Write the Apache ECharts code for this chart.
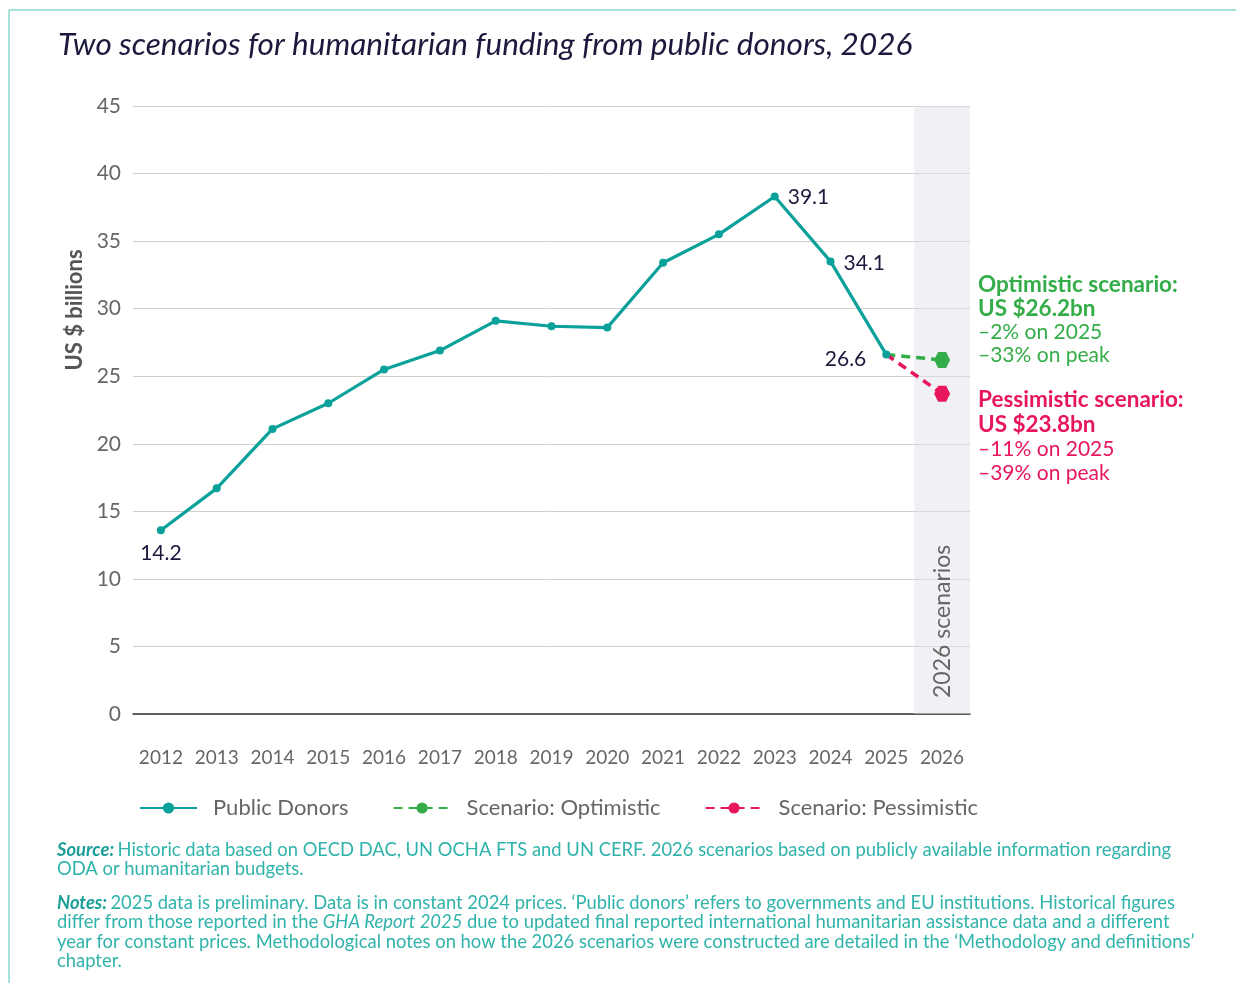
<!DOCTYPE html>
<html>
<head>
<meta charset="utf-8">
<script src="https://cdn.jsdelivr.net/npm/echarts@6/dist/echarts.min.js"></script>
<style>html,body{margin:0;padding:0;background:#fff;}#c{width:1236px;height:983px;}</style>
</head>
<body>
<div id="c"></div>
<script>
var years = ['2012','2013','2014','2015','2016','2017','2018','2019','2020','2021','2022','2023','2024','2025','2026'];
var publicDonors = [13.6, 16.7, 21.1, 23.0, 25.5, 26.9, 29.1, 28.7, 28.6, 33.4, 35.5, 38.3, 33.5, 26.6, null];
var optimistic = [null, null, null, null, null, null, null, null, null, null, null, null, null, 26.6, 26.2];
var pessimistic = [null, null, null, null, null, null, null, null, null, null, null, null, null, 26.6, 23.7];
var pointLabels = {0: '14.2', 11: '39.1', 12: '34.1', 13: '26.6'};
var yTicks = [0, 5, 10, 15, 20, 25, 30, 35, 40, 45];
var scenarioBand = [null, null, null, null, null, null, null, null, null, null, null, null, null, null, 45];

var FONT = 'Lato, "Open Sans", sans-serif';
var TEAL = '#0aa19b', GREEN = '#34ad48', PINK = '#e8175d', NAVY = '#1b1a3d';
var HEX = 'path://M5,0 L15,0 L20,8.66 L15,17.32 L5,17.32 L0,8.66 Z';

function lastSymbol(arr) {
  return arr.map(function (v, i) {
    if (v === null) return null;
    return i === arr.length - 1 ? {value: v, symbol: HEX, symbolSize: 16} : {value: v, symbol: 'none'};
  });
}

var labelPos = {0: ['bottom', [0, 3]], 11: ['right', [4, 1]], 12: ['right', [4, 2]], 13: ['left', [-11, 5]]};
var donorData = publicDonors.map(function (v, i) {
  if (v === null) return null;
  var o = {value: v};
  if (pointLabels[i]) {
    o.label = {show: true, formatter: pointLabels[i], position: labelPos[i][0], offset: labelPos[i][1],
      color: NAVY, fontSize: 21, fontFamily: FONT};
  }
  return o;
});

var chart = echarts.init(document.getElementById('c'), null, {renderer: 'canvas'});
chart.setOption({
  animation: false,
  backgroundColor: '#fff',
  textStyle: {fontFamily: FONT},
  grid: {left: 133, right: 266, top: 106, bottom: 269, containLabel: false},
  legend: {
    data: ['Public Donors', 'Scenario: Optimistic', 'Scenario: Pessimistic'],
    left: 134, top: 792, itemWidth: 57, itemHeight: 14, itemGap: 44,
    textStyle: {fontSize: 22, color: '#666', fontFamily: FONT, padding: [0, 0, 0, 11]}
  },
  xAxis: {
    type: 'category', data: years, boundaryGap: true,
    axisLine: {lineStyle: {color: '#333', width: 1.5}},
    axisTick: {alignWithLabel: true, length: 12, lineStyle: {color: '#bbb'}},
    axisLabel: {interval: 0, fontSize: 19, color: '#666', margin: 34, fontFamily: FONT}
  },
  yAxis: {
    type: 'value', min: 0, max: 45, interval: 5,
    axisLine: {show: false}, axisTick: {show: false},
    axisLabel: {fontSize: 21, color: '#666', margin: 12, fontFamily: FONT,
      formatter: function (v) { return yTicks.indexOf(v) >= 0 ? String(v) : ''; }},
    splitLine: {lineStyle: {color: '#cfcfcf', width: 1}}
  },
  series: [
    {
      name: 'band', type: 'bar', data: scenarioBand, barWidth: '100%', silent: true, z: 0,
      itemStyle: {color: 'rgba(226,228,233,0.5)'},
      label: {show: true, formatter: '2026 scenarios', position: 'insideBottom', rotate: 90,
        align: 'left', verticalAlign: 'middle', distance: 16, fontSize: 23, color: '#666', fontFamily: FONT}
    },
    {
      name: 'Scenario: Optimistic', type: 'line', data: lastSymbol(optimistic), z: 3,
      lineStyle: {color: GREEN, width: 3.5, type: [9, 6]}, itemStyle: {color: GREEN},
      symbol: 'circle', symbolSize: 8
    },
    {
      name: 'Scenario: Pessimistic', type: 'line', data: lastSymbol(pessimistic), z: 3,
      lineStyle: {color: PINK, width: 3.5, type: [9, 6]}, itemStyle: {color: PINK},
      symbol: 'circle', symbolSize: 8
    },
    {
      name: 'Public Donors', type: 'line', data: donorData, z: 5,
      lineStyle: {color: TEAL, width: 3.2}, itemStyle: {color: TEAL},
      symbol: 'circle', symbolSize: 8
    }
  ],
  graphic: [
    {type: 'line', shape: {x1: 9, y1: 10, x2: 1236, y2: 10}, style: {stroke: '#86d9cc', lineWidth: 1.5}},
    {type: 'line', shape: {x1: 9, y1: 10, x2: 9, y2: 983}, style: {stroke: '#86d9cc', lineWidth: 1.5}},
    {type: 'text', left: 58, top: 29, style: {text: 'Two scenarios for humanitarian funding from public donors, 2026',
      font: 'italic 31.5px ' + FONT, fill: NAVY}},
    {type: 'text', x: 75, y: 310, rotation: Math.PI / 2, style: {text: 'US $ billions', font: 'bold 22px ' + FONT,
      fill: '#555', align: 'center', verticalAlign: 'middle'}},
    {type: 'text', left: 978, top: 273, style: {
      text: '{b|Optimistic scenario:}\n{b|US $26.2bn}\n{r|\u20132% on 2025}\n{r|\u201333% on peak}',
      rich: {b: {font: 'bold 22.5px ' + FONT, fill: GREEN, lineHeight: 24},
             r: {font: '21px ' + FONT, fill: GREEN, lineHeight: 23}}}},
    {type: 'text', left: 978, top: 388, style: {
      text: '{b|Pessimistic scenario:}\n{b|US $23.8bn}\n{r|\u201311% on 2025}\n{r|\u201339% on peak}',
      rich: {b: {font: 'bold 22.5px ' + FONT, fill: PINK, lineHeight: 25},
             r: {font: '21px ' + FONT, fill: PINK, lineHeight: 24}}}},
    {type: 'text', left: 57, top: 841, style: {
      text: '{sb|Source:} {t|Historic data based on OECD DAC, UN OCHA FTS and UN CERF. 2026 scenarios based on publicly available information regarding}\n{t|ODA or humanitarian budgets.}',
      rich: {sb: {font: 'italic bold 18.4px ' + FONT, fill: '#1a9f98', lineHeight: 19.5},
             t: {font: '18.4px ' + FONT, fill: '#2fb3aa', lineHeight: 19.5}}}},
    {type: 'text', left: 57, top: 894, style: {
      text: '{sb|Notes:} {t|2025 data is preliminary. Data is in constant 2024 prices. \u2018Public donors\u2019 refers to governments and EU institutions. Historical figures}\n{t|differ from those reported in the }{ti|GHA Report 2025}{t| due to updated final reported international humanitarian assistance data and a different}\n{t|year for constant prices. Methodological notes on how the 2026 scenarios were constructed are detailed in the \u2018Methodology and definitions\u2019}\n{t|chapter.}',
      rich: {sb: {font: 'italic bold 18.4px ' + FONT, fill: '#1a9f98', lineHeight: 19.5},
             t: {font: '18.4px ' + FONT, fill: '#2fb3aa', lineHeight: 19.5},
             ti: {font: 'italic 18.4px ' + FONT, fill: '#2fb3aa', lineHeight: 19.5}}}}
  ]
});
</script>
</body>
</html>
